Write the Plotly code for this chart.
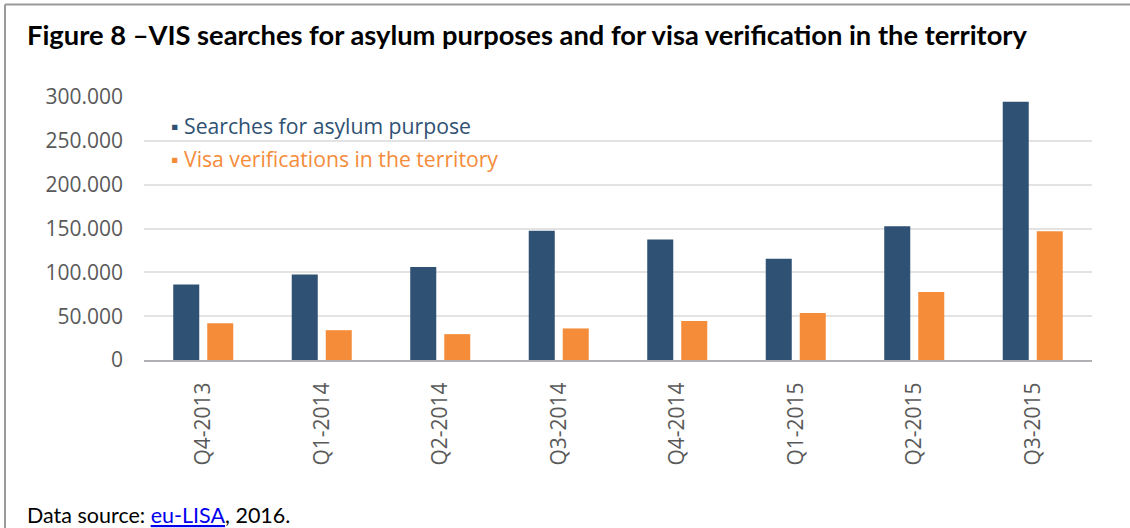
import plotly.graph_objects as go

categories = ["Q4-2013", "Q1-2014", "Q2-2014", "Q3-2014", "Q4-2014", "Q1-2015", "Q2-2015", "Q3-2015"]
asylum_searches = [86000, 97500, 106000, 147500, 137500, 115500, 152500, 294500]
visa_verifications = [42000, 34000, 29500, 36000, 44500, 53500, 77500, 147000]
series_names = ["Searches for asylum purpose", "Visa verifications in the territory"]

BLUE = "#2F5173"
ORANGE = "#F58C3A"

W, H = 1130, 528
L, R, T, B = 144, 1092, 97, 360


def px(x):
    return (x - L) / (R - L)


def py(y):
    return (B - y) / (B - T)


fig = go.Figure()
fig.add_trace(go.Bar(x=categories, y=asylum_searches, name=series_names[0],
                     marker=dict(color=BLUE, line=dict(width=0))))
fig.add_trace(go.Bar(x=categories, y=visa_verifications, name=series_names[1],
                     marker=dict(color=ORANGE, line=dict(width=0))))

tick_font = dict(family="Open Sans", size=21, color="#595959")

fig.update_layout(
    width=W, height=H,
    margin=dict(l=L, r=W - R, t=T, b=H - B),
    paper_bgcolor="white", plot_bgcolor="white",
    barmode="group", bargap=0.426, bargroupgap=0.235,
    separators=",.",
    showlegend=False,
    xaxis=dict(showgrid=False, showline=True, linecolor="#AEB0B3", linewidth=2,
               tickangle=-90, tickfont=tick_font, ticks="", ticklabelstandoff=12),
    yaxis=dict(range=[0, 300000], tickvals=[0, 50000, 100000, 150000, 200000, 250000, 300000],
               tickformat=",d", showgrid=True, gridcolor="#E3E3E3", gridwidth=1.5,
               zeroline=False, showline=False, tickfont=tick_font, ticks="",
               ticklabelstandoff=20),
)

annotations = [
    dict(text="<b>Figure 8 –VIS searches for asylum purposes and for visa verification in the territory</b>",
         x=px(25), y=py(35), xanchor="left", yanchor="middle",
         font=dict(family="Lato", size=27.3, color="black")),
    dict(text="▪ " + series_names[0], x=px(169), y=py(125), xanchor="left", yanchor="middle",
         font=dict(family="Open Sans", size=21.2, color=BLUE)),
    dict(text="▪ " + series_names[1], x=px(169), y=py(158), xanchor="left", yanchor="middle",
         font=dict(family="Open Sans", size=21.2, color=ORANGE)),
    dict(text="Data source: <a href='https://www.eulisa.europa.eu'><span style='color:#0000EE'><u>eu-LISA</u></span></a>, 2016.",
         x=px(25), y=py(515), xanchor="left", yanchor="middle",
         font=dict(family="Lato", size=21.5, color="black")),
]
for a in annotations:
    a.update(xref="paper", yref="paper", showarrow=False)
fig.update_layout(annotations=annotations)

fig.add_shape(type="line", xref="paper", yref="paper", x0=px(5), x1=px(1130), y0=py(4.5), y1=py(4.5),
              line=dict(color="#9A9A9A", width=2))
fig.add_shape(type="line", xref="paper", yref="paper", x0=px(5), x1=px(5), y0=py(4.5), y1=py(528),
              line=dict(color="#9A9A9A", width=2))

fig.write_html("out.html")
